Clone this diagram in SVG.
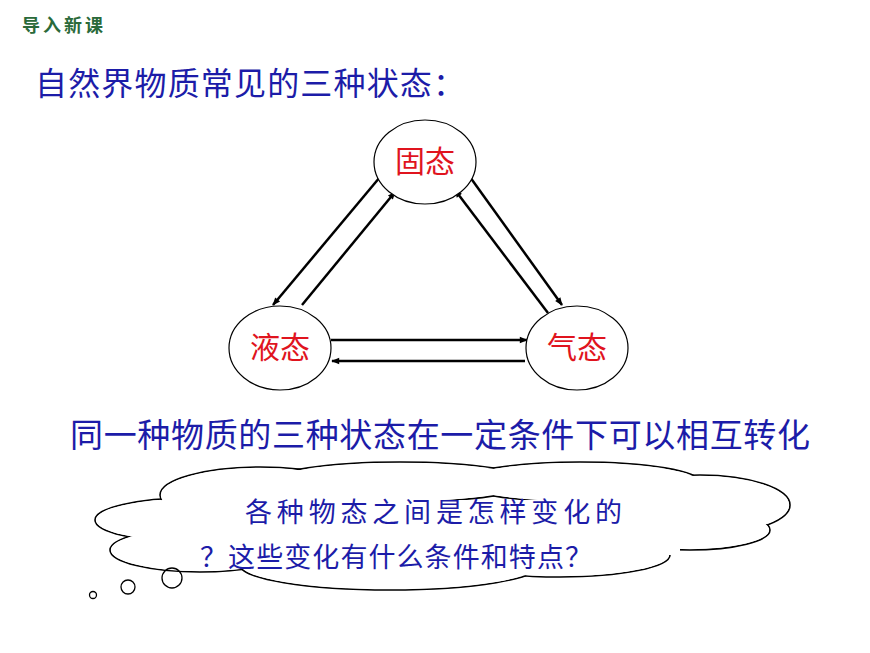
<svg xmlns="http://www.w3.org/2000/svg" width="870" height="653" viewBox="0 0 870 653">
<defs>
<marker id="ah" viewBox="0 0 10 10" refX="9" refY="5" markerWidth="9" markerHeight="8" orient="auto" markerUnits="userSpaceOnUse"><path d="M0,1 L10,5 L0,9 Z" fill="#000"/></marker>
</defs>
<style>
text{font-family:"Liberation Sans","Noto Sans CJK SC",sans-serif}
.blue{fill:#1c1ca8}
.node ellipse{fill:#fff;stroke:#000;stroke-width:1.2}
.node text{fill:#e0141e;font-size:30px;text-anchor:middle}
.c line{stroke:#000;stroke-width:2.5;marker-end:url(#ah)}
</style>
<rect width="870" height="653" fill="#fff"/>
<text x="22" y="32" font-size="18" font-weight="bold" fill="#2a6a3a" letter-spacing="3">导入新课</text>
<text x="35" y="95" font-size="32" class="blue" textLength="430">自然界物质常见的三种状态：</text>
<g class="c">
<line x1="380" y1="177" x2="273" y2="305"/>
<line x1="302" y1="305" x2="395" y2="192"/>
<line x1="470" y1="177" x2="562" y2="305"/>
<line x1="548" y1="313" x2="455" y2="190"/>
<line x1="331" y1="340" x2="527" y2="340"/>
<line x1="525" y1="361" x2="332" y2="361"/>
</g>
<g id="solid" class="node"><ellipse cx="425" cy="162" rx="51" ry="42"/><text x="425" y="172">固态</text></g>
<g id="liquid" class="node"><ellipse cx="280" cy="348" rx="51" ry="42"/><text x="280" y="358">液态</text></g>
<g id="gas" class="node"><ellipse cx="577" cy="348" rx="51" ry="42"/><text x="577" y="358">气态</text></g>
<text x="70" y="447" font-size="33" class="blue" textLength="740">同一种物质的三种状态在一定条件下可以相互转化</text>
<g id="cloud" fill="none">
<g stroke="#000" stroke-width="1.6" fill="#fff">
<ellipse cx="190" cy="520" rx="95" ry="22"/>
<ellipse cx="260" cy="495" rx="100" ry="28"/>
<ellipse cx="400" cy="482" rx="130" ry="20"/>
<ellipse cx="580" cy="482" rx="120" ry="20"/>
<ellipse cx="700" cy="505" rx="90" ry="30"/>
<ellipse cx="690" cy="530" rx="80" ry="20"/>
<ellipse cx="200" cy="550" rx="90" ry="22"/>
<ellipse cx="390" cy="565" rx="150" ry="25"/>
<ellipse cx="560" cy="555" rx="110" ry="22"/>
</g>
<g fill="#fff">
<ellipse cx="190" cy="520" rx="94" ry="21"/>
<ellipse cx="260" cy="495" rx="99" ry="27"/>
<ellipse cx="400" cy="482" rx="129" ry="19"/>
<ellipse cx="580" cy="482" rx="119" ry="19"/>
<ellipse cx="700" cy="505" rx="89" ry="29"/>
<ellipse cx="690" cy="530" rx="79" ry="19"/>
<ellipse cx="200" cy="550" rx="89" ry="21"/>
<ellipse cx="390" cy="565" rx="149" ry="24"/>
<ellipse cx="560" cy="555" rx="109" ry="21"/>
<rect x="200" y="500" width="480" height="55"/>
</g>
<circle cx="172" cy="578" r="10" stroke="#000" stroke-width="1.3"/>
<circle cx="128" cy="587" r="7" stroke="#000" stroke-width="1.3"/>
<circle cx="93" cy="595" r="3.5" stroke="#000" stroke-width="1.3"/>
</g>
<text x="245" y="522" font-size="27" class="blue" textLength="377">各种物态之间是怎样变化的</text>
<text x="200" y="567" font-size="27" class="blue" textLength="392">？这些变化有什么条件和特点？</text>
</svg>
